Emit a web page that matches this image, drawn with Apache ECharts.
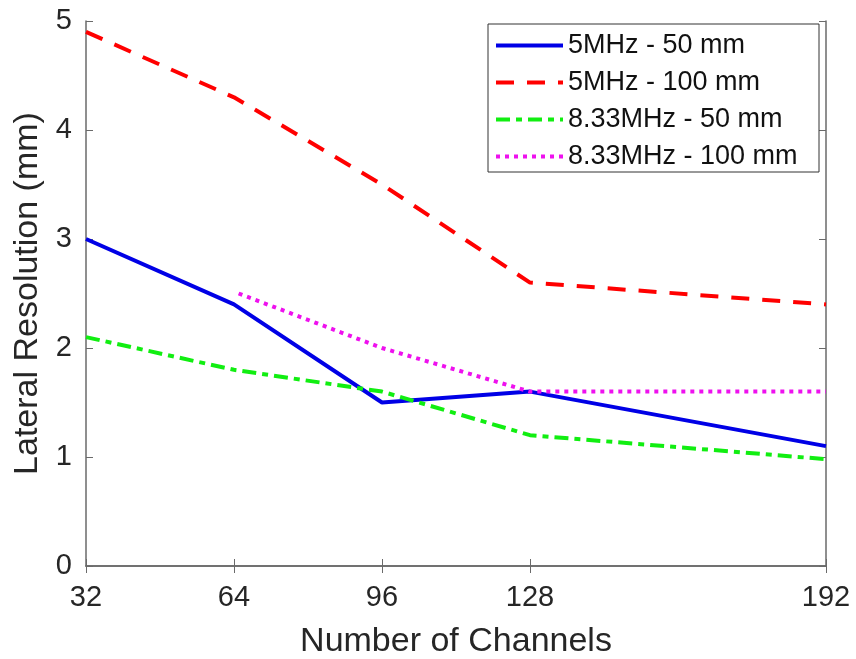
<!DOCTYPE html>
<html>
<head>
<meta charset="utf-8">
<script src="https://cdn.jsdelivr.net/npm/echarts@6/dist/echarts.min.js"></script>
<style>html,body{margin:0;padding:0;background:#fff}#c{width:856px;height:659px}</style>
</head>
<body>
<div id="c"></div>
<script>
const channels = [32, 64, 96, 128, 192];
const pinkChannels = [65, 96, 128, 192];
const xTicks = [32, 64, 96, 128, 192];
const blue50 = [3.0, 2.4, 1.5, 1.6, 1.1];
const red100 = [4.9, 4.3, 3.5, 2.6, 2.4];
const green50 = [2.1, 1.8, 1.6, 1.2, 0.98];
const pink100 = [2.5, 2.0, 1.6, 1.6];
const seriesNames = ['5MHz - 50 mm', '5MHz - 100 mm', '8.33MHz - 50 mm', '8.33MHz - 100 mm'];

const pair = (xs, ys) => xs.map((x, i) => [x, ys[i]]);
const font = 'Liberation Sans, Arial, sans-serif';
const axisColor = '#6a6a6a';
const textColor = '#262626';

const chart = echarts.init(document.getElementById('c'));
const mkLine = (name, xs, ys, color, type) => ({
  name, type: 'line', data: pair(xs, ys), symbol: 'none', showSymbol: false,
  lineStyle: { color, width: 4, type, cap: 'butt' }, itemStyle: { color },
  animation: false
});

chart.setOption({
  animation: false,
  grid: { left: 86, right: 30, top: 21, bottom: 93, outerBoundsMode: 'none', containLabel: false },
  legend: {
    left: 488, top: 24, orient: 'vertical',
    data: seriesNames,
    itemWidth: 67, itemHeight: 22, itemGap: 10,
    padding: [8, 6, 2, 6],
    borderColor: '#333', borderWidth: 1, backgroundColor: '#fff',
    itemStyle: { opacity: 0 },
    lineStyle: { width: 4 },
    textStyle: { fontFamily: font, fontSize: 27, color: '#111', width: 245, lineHeight: 26 }
  },
  xAxis: [{
    type: 'value', min: 32, max: 192, position: 'bottom',
    name: 'Number of Channels', nameLocation: 'middle', nameGap: 59,
    nameTextStyle: { fontFamily: font, fontSize: 34, color: textColor },
    axisLine: { show: true, lineStyle: { color: axisColor, width: 1.5 } },
    axisTick: { show: true, inside: true, length: 7, customValues: xTicks, lineStyle: { color: axisColor } },
    axisLabel: { customValues: xTicks, margin: 17, fontFamily: font, fontSize: 29, color: textColor },
    splitLine: { show: false }
  }, {
    type: 'value', min: 32, max: 192, position: 'top',
    axisLine: { show: true, lineStyle: { color: axisColor, width: 1.5 } },
    axisTick: { show: true, inside: true, length: 7, customValues: xTicks, lineStyle: { color: axisColor } },
    axisLabel: { show: false, customValues: xTicks },
    splitLine: { show: false }
  }],
  yAxis: [{
    type: 'value', min: 0, max: 5, interval: 1, position: 'left',
    name: 'Lateral Resolution (mm)', nameLocation: 'middle', nameGap: 40,
    nameTextStyle: { fontFamily: font, fontSize: 34, color: textColor },
    axisLine: { show: true, lineStyle: { color: axisColor, width: 1.5 } },
    axisTick: { show: true, inside: true, length: 7, lineStyle: { color: axisColor } },
    axisLabel: { margin: 14, fontFamily: font, fontSize: 29, color: textColor },
    splitLine: { show: false }
  }, {
    type: 'value', min: 0, max: 5, interval: 1, position: 'right',
    axisLine: { show: true, lineStyle: { color: axisColor, width: 1.5 } },
    axisTick: { show: true, inside: true, length: 7, lineStyle: { color: axisColor } },
    axisLabel: { show: false },
    splitLine: { show: false }
  }],
  series: [
    mkLine(seriesNames[0], channels, blue50, '#0000e6', 'solid'),
    mkLine(seriesNames[1], channels, red100, '#ff0000', [18, 13]),
    mkLine(seriesNames[2], channels, green50, '#11ee11', [14, 6, 6, 6]),
    mkLine(seriesNames[3], pinkChannels, pink100, '#ee11ee', [4, 5])
  ]
});
</script>
</body>
</html>
